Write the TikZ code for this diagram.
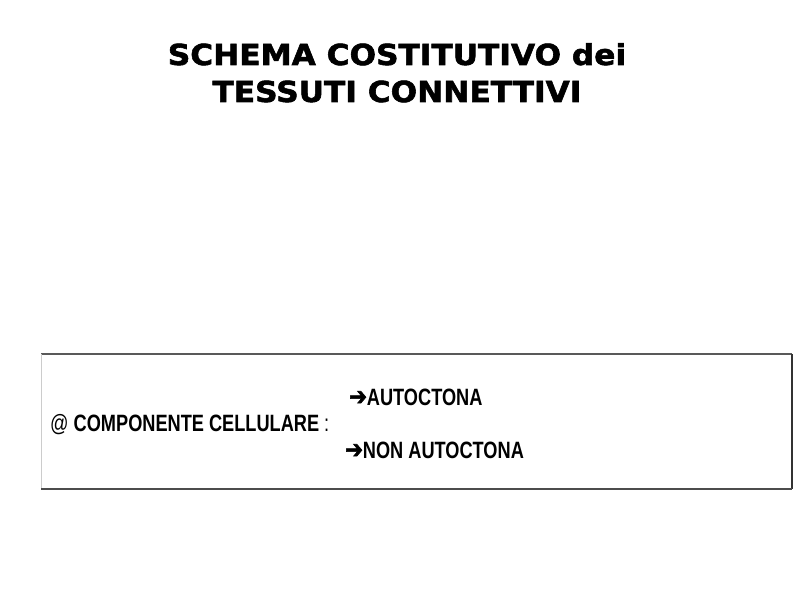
\documentclass[tikz,border=0pt]{standalone}
\usepackage{fontspec}
\setmainfont{Liberation Sans}
\newfontfamily\narrowfont[FakeStretch=0.77]{Liberation Sans}
\newfontfamily\titlefont[FakeStretch=1.08,FakeBold=2]{DejaVu Sans}
\newfontfamily\arrowfont[FakeBold=2.5,FakeStretch=0.85]{DejaVu Sans}
\begin{document}
\begin{tikzpicture}[x=1bp,y=-1bp,
  titletext/.style={font=\titlefont\bfseries\fontsize{29}{32}\selectfont, inner sep=0pt, anchor=base},
  boxtext/.style={font=\narrowfont\fontsize{23.7}{26}\selectfont, inner sep=0pt, anchor=base west}]
\useasboundingbox (0,0) rectangle (794,595);
\fill[white] (0,0) rectangle (794,595);
% title
\node[titletext] (t1) at (397,65) {SCHEMA COSTITUTIVO dei};
\node[titletext] (t2) at (397,102) {TESSUTI CONNETTIVI};
% frame
\coordinate (tl) at (41,354);
\coordinate (tr) at (792,354);
\coordinate (br) at (792,489);
\coordinate (bl) at (41,489);
\draw[gray!70!black, line width=1.2bp] (tl) -- (tr);
\draw[gray!40, line width=1bp] (tl) -- (bl);
\draw[black!80, line width=2bp] (tr) -- (br);
\draw[black!70, line width=2.5bp] (bl) -- (br);
% text
\node[boxtext] (comp) at (50,431) {@ \textbf{COMPONENTE CELLULARE} :};
\node[boxtext] (auto) at (349,405) {{\arrowfont\bfseries\fontsize{25}{26}\selectfont ➔}\textbf{AUTOCTONA}};
\node[boxtext] (non) at (345,458) {{\arrowfont\bfseries\fontsize{25}{26}\selectfont ➔}\textbf{NON AUTOCTONA}};
\end{tikzpicture}
\end{document}
